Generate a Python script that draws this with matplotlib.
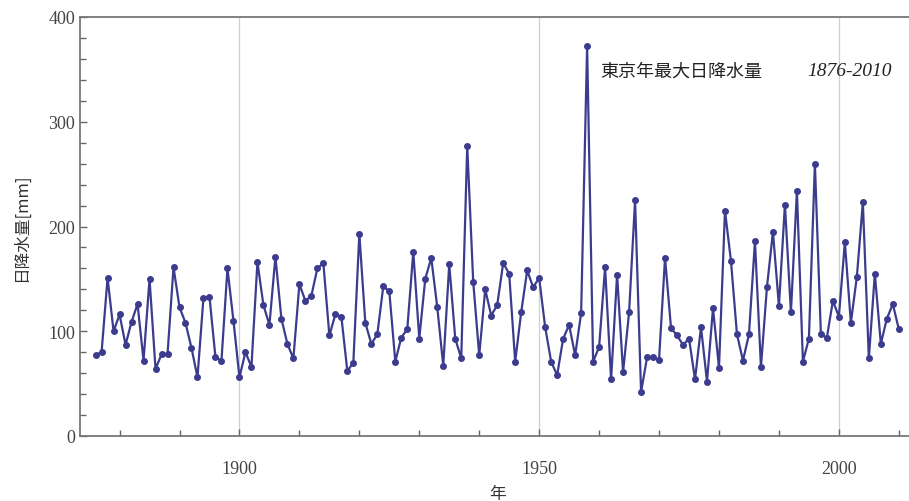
import matplotlib
matplotlib.use("Agg")
import matplotlib.pyplot as plt
from matplotlib.ticker import MultipleLocator

plt.rcParams['font.family'] = ['Noto Sans CJK JP', 'DejaVu Sans']

years = list(range(1876, 2011))
rain = [
    77, 80, 151, 100, 116, 87, 109, 126, 72, 150,          # 1876-1885
    64, 78, 78, 161, 123, 108, 84, 56, 132, 133,           # 1886-1895
    75, 72, 160, 110, 56, 80, 66, 166, 125, 106,           # 1896-1905
    171, 112, 88, 74, 145, 129, 134, 160, 165, 96,         # 1906-1915
    116, 114, 62, 70, 193, 108, 88, 97, 143, 138,          # 1916-1925
    71, 94, 102, 176, 93, 150, 170, 123, 67, 164,          # 1926-1935
    93, 74, 277, 147, 77, 140, 115, 125, 165, 155,         # 1936-1945
    71, 118, 158, 142, 151, 104, 71, 58, 93, 106,          # 1946-1955
    77, 117, 372, 71, 85, 161, 54, 154, 61, 118,           # 1956-1965
    225, 42, 75, 75, 73, 170, 103, 96, 87, 93,             # 1966-1975
    54, 104, 52, 122, 65, 215, 167, 97, 72, 97,            # 1976-1985
    186, 66, 142, 195, 124, 221, 118, 234, 71, 93,         # 1986-1995
    260, 97, 94, 129, 114, 185, 108, 152, 223, 74,         # 1996-2005
    155, 88, 112, 126, 102,                                # 2006-2010
]
major_years = [1900, 1950, 2000]
title_text = '東京年最大日降水量'
period_text = '1876-2010'

fig = plt.figure(figsize=(9.09, 5.02), dpi=100)
ax = fig.add_axes([80 / 909, 65 / 502, 835 / 909, 419 / 502])

ax.plot(years, rain, color='#3c3c8e', lw=1.6, marker='o', markersize=4)

ax.set_xlim(1873.4, 2012.7)
ax.set_ylim(0, 400)
ax.set_xticks(major_years)
ax.xaxis.set_minor_locator(MultipleLocator(10))
ax.yaxis.set_major_locator(MultipleLocator(100))
ax.yaxis.set_minor_locator(MultipleLocator(20))
ax.grid(axis='x', which='major', color='#cfcfcf', lw=0.9)

ax.tick_params(which='both', direction='in', color='#666666', labelcolor='#444444', labelsize=13)
ax.tick_params(which='major', length=5, width=1)
ax.tick_params(which='minor', length=4, width=1)
ax.tick_params(axis='x', pad=17)
for lab in ax.get_xticklabels() + ax.get_yticklabels():
    lab.set_family('Liberation Serif')
for sp in ax.spines.values():
    sp.set_color('#777777')
    sp.set_linewidth(1.3)

ax.set_ylabel('日降水量[mm]', fontsize=12, color='#333333', labelpad=13)
ax.set_xlabel('年', fontsize=12, color='#333333', labelpad=6)

fig.text(600 / 909, 1 - 72 / 502, title_text, fontsize=13, color='#222222',
         ha='left', va='center')
fig.text(807 / 909, 1 - 72 / 502, period_text, fontsize=14, color='#222222',
         ha='left', va='center', family='Liberation Serif', style='italic')

fig.savefig('out.png', dpi=100)
